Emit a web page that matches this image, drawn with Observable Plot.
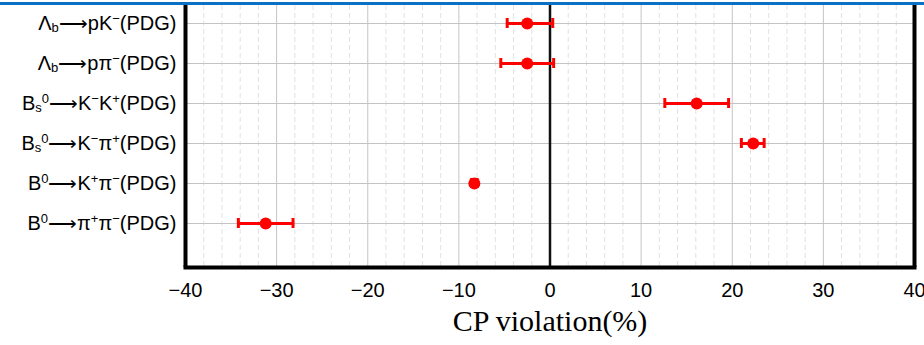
<!DOCTYPE html>
<html>
<head>
<meta charset="utf-8">
<script src="https://cdn.jsdelivr.net/npm/d3@7"></script>
<script src="https://cdn.jsdelivr.net/npm/@observablehq/plot@0.6"></script>
<style>
  html, body { margin: 0; padding: 0; background: #fff; }
  #wrap { position: relative; width: 924px; height: 345px; }
  #topbar { position: absolute; left: 0; top: 2px; width: 924px; height: 3px; background: #0a70c4; z-index: 2; }
</style>
</head>
<body>
<div id="wrap"><div id="topbar"></div></div>
<script>
// Decay channels (top to bottom); "_x" = subscript char, "^x" = superscript char
const decays = [
  "Λ_b⟶pK^−(PDG)",
  "Λ_b⟶pπ^−(PDG)",
  "B_s^0⟶K^−K^+(PDG)",
  "B_s^0⟶K^−π^+(PDG)",
  "B^0⟶K^+π^−(PDG)",
  "B^0⟶π^+π^−(PDG)"
];
// CP violation (%) central values and error-bar bounds
const acp   = [-2.5, -2.5, 16.1, 22.3, -8.3, -31.2];
const acpLo = [-4.7, -5.4, 12.6, 21.0, -8.6, -34.2];
const acpHi = [ 0.3,  0.4, 19.6, 23.5, -8.0, -28.2];
// x axis ticks
const xTicks = [-40, -30, -20, -10, 0, 10, 20, 30, 40];
const xMinor = [-38,-36,-34,-32,-28,-26,-24,-22,-18,-16,-14,-12,-8,-6,-4,-2,2,4,6,8,12,14,16,18,22,24,26,28,32,34,36,38];
const xTitle = "CP violation(%)";

const data = decays.map((name, i) => ({name, acp: acp[i], lo: acpLo[i], hi: acpHi[i]}));
const red = "#ff0000";

const chart = Plot.plot({
  width: 924,
  height: 345,
  marginLeft: 185,
  marginRight: 10,
  marginTop: 5,
  marginBottom: 78,
  style: {background: "#fff", color: "#000", fontFamily: "'Liberation Sans', Arial, sans-serif"},
  x: {domain: [-40, 40]},
  y: {type: "band", domain: decays, range: [2.9, 244.1], padding: 0},
  marks: [
    Plot.ruleX(xMinor, {stroke: "#e2e2e2", strokeWidth: 1, strokeDasharray: "5,3"}),
    Plot.ruleX(xTicks, {stroke: "#c4c4c4", strokeWidth: 1}),
    Plot.gridY({stroke: "#c4c4c4", strokeOpacity: 1, strokeWidth: 1}),
    Plot.ruleX([0], {stroke: "#111", strokeWidth: 2.5}),
    Plot.ruleX([-40], {stroke: "#000", strokeWidth: 4}),
    Plot.ruleX([40], {stroke: "#000", strokeWidth: 4}),
    Plot.frame({anchor: "bottom", stroke: "#000", strokeWidth: 4, strokeLinecap: "square"}),
    Plot.axisX({ticks: xTicks, tickSize: 0, tickPadding: 15, fontSize: 20, label: null}),
    Plot.axisY({tickSize: 0, tickPadding: 9, fontSize: 20, label: null}),
    Plot.ruleY(data, {y: "name", x1: "lo", x2: "hi", stroke: red, strokeWidth: 3}),
    Plot.tickX(data, {x: "lo", y: "name", stroke: red, strokeWidth: 3, insetTop: 15, insetBottom: 15}),
    Plot.tickX(data, {x: "hi", y: "name", stroke: red, strokeWidth: 3, insetTop: 15, insetBottom: 15}),
    Plot.dot(data, {x: "acp", y: "name", r: 6, fill: red, stroke: "none"}),
    Plot.text([xTitle], {frameAnchor: "bottom", dy: 63, fontSize: 30, fontFamily: "'Liberation Serif', 'Times New Roman', serif", fill: "#000"})
  ]
});

// Rebuild y tick labels with sub/superscripts
const shift = {normal: 0, sub: 2, sup: -7};
const size = {normal: null, sub: 13, sup: 13};
d3.select(chart).selectAll('g[aria-label="y-axis tick label"] text').each(function() {
  const s = this.textContent;
  const t = d3.select(this);
  t.text(null);
  const parts = [];
  for (let i = 0; i < s.length; i++) {
    let c = s[i], kind = "normal";
    if (c === "_" || c === "^") { kind = c === "_" ? "sub" : "sup"; c = s[++i]; }
    if (parts.length && parts[parts.length - 1].kind === kind && kind === "normal") parts[parts.length - 1].txt += c;
    else parts.push({kind, txt: c});
  }
  let prev = 0;
  for (const p of parts) {
    const ts = t.append("tspan").text(p.txt);
    const dy = shift[p.kind] - prev;
    if (dy) ts.attr("dy", dy);
    if (size[p.kind]) ts.attr("font-size", size[p.kind]);
    if (p.txt === "⟶") ts.attr("font-size", 16);
    prev = shift[p.kind];
  }
});

document.getElementById("wrap").appendChild(chart);
chart.style.position = "absolute";
chart.style.left = "0";
chart.style.top = "0";
</script>
</body>
</html>
